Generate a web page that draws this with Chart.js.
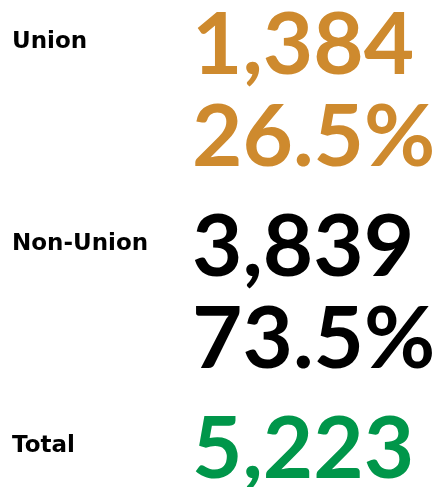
<!DOCTYPE html>
<html>
<head>
<meta charset="utf-8">
<script src="https://cdn.jsdelivr.net/npm/chart.js@4/dist/chart.umd.min.js"></script>
<style>
  html, body { margin: 0; padding: 0; background: #fff; }
  #wrap { width: 435px; height: 487px; position: relative; }
</style>
</head>
<body>
<div id="wrap"><canvas id="unionChart"></canvas></div>
<script>
const categories = ["Union", "Non-Union", "Total"];
const counts = [1384, 3839, 5223];
const shares = [26.5, 73.5, null];
const colors = ["#CE8A2E", "#000000", "#00964A"];

// draws the big numbers next to each row, using the bar positions from the y scale
const bigNumbers = {
  id: "bigNumbers",
  afterDatasetsDraw(chart) {
    const ctx = chart.ctx;
    const meta = chart.getDatasetMeta(0);
    const left = chart.chartArea.left - 4;
    ctx.save();
    ctx.font = "700 87px Lato";
    ctx.textAlign = "left";
    ctx.textBaseline = "alphabetic";
    meta.data.forEach(function (bar, i) {
      ctx.fillStyle = colors[i];
      ctx.fillText(counts[i].toLocaleString("en-US"), left, bar.y + 32);
      if (shares[i] != null) {
        ctx.fillText(shares[i].toFixed(1) + "%", left, bar.y + 124);
      }
    });
    ctx.restore();
  },
};

document.addEventListener("DOMContentLoaded", function () {
  const el = document.getElementById("unionChart");
  new Chart(el.getContext("2d"), {
    type: "bar",
    data: {
      labels: categories,
      datasets: [
        {
          data: counts,
          backgroundColor: "rgba(0,0,0,0)",
        },
      ],
    },
    options: {
      indexAxis: "y",
      responsive: true,
      maintainAspectRatio: false,
      animation: false,
      layout: { padding: { top: 42, bottom: 41, left: 12, right: 0 } },
      plugins: {
        legend: { display: false },
        tooltip: { enabled: false },
      },
      scales: {
        x: { display: false, min: 0 },
        y: {
          offset: false,
          grid: { display: false },
          border: { display: false },
          afterFit: function (scale) { scale.width = 184; },
          ticks: {
            crossAlign: "far",
            padding: 0,
            color: "#000",
            font: { family: "DejaVu Sans", weight: "bold", size: 23 },
          },
        },
      },
    },
    plugins: [bigNumbers],
  });
});
</script>
</body>
</html>
